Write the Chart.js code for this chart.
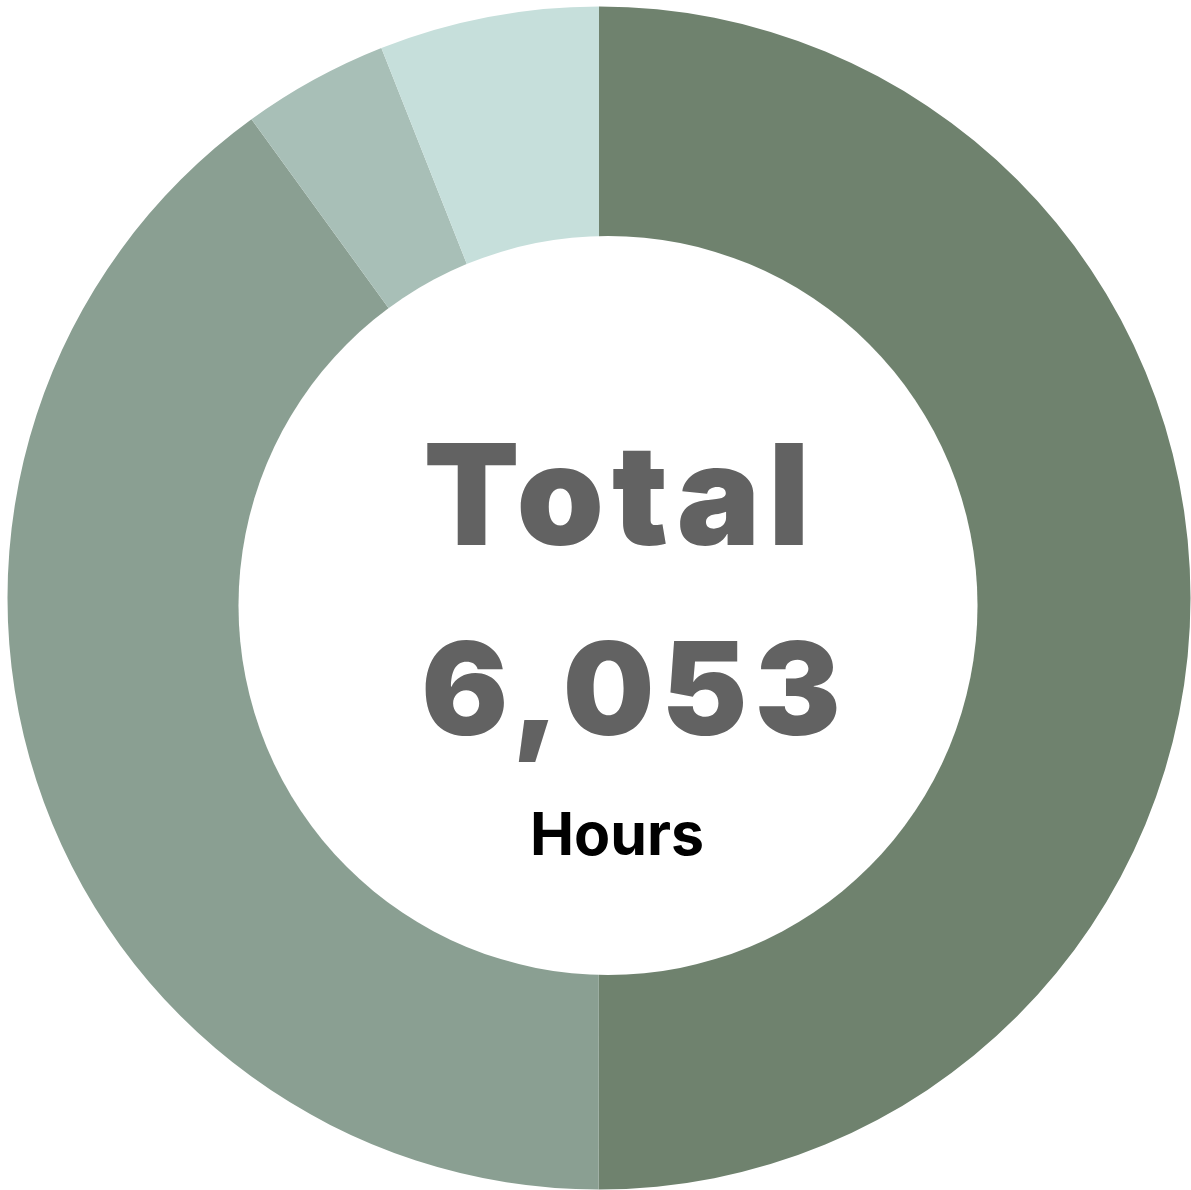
<!DOCTYPE html>
<html>
<head>
<meta charset="utf-8">
<script src="https://cdn.jsdelivr.net/npm/chart.js@4.4.1/dist/chart.umd.min.js"></script>
<style>
  html, body { margin: 0; padding: 0; background: #ffffff; }
  #wrap { width: 1191px; height: 1190px; }
</style>
</head>
<body>
<div id="wrap"><canvas id="rosca"></canvas></div>
<script>
/* dados do gráfico */
const categorias = ['Segment 1', 'Segment 2', 'Segment 3', 'Segment 4'];
const horas = [3027, 2421, 242, 363];
const cores = ['#6f826e', '#8a9f92', '#a8bfb7', '#c6dfdb'];
const textoTitulo = 'Total';
const textoTotal = '6,053';
const textoUnidade = 'Hours';

/* furo branco e textos do centro */
const centroPlugin = {
    id: 'centro',
    afterDatasetsDraw(chart) {
        const arco = chart.getDatasetMeta(0).data[0];
        const cx = arco.x, cy = arco.y;
        const ctx = chart.ctx;
        ctx.save();

        // o furo do original fica um pouco deslocado para a direita/baixo
        ctx.fillStyle = '#ffffff';
        ctx.beginPath();
        ctx.arc(cx + 9, cy + 7.5, arco.outerRadius * 0.6247, 0, Math.PI * 2);
        ctx.fill();

        ctx.textAlign = 'center';
        ctx.textBaseline = 'alphabetic';

        ctx.fillStyle = '#626262';
        ctx.font = '900 140px Inter';
        ctx.letterSpacing = '8px';
        ctx.fillText(textoTitulo, cx + 17.5 + 4, cy - 53);

        ctx.font = '900 129px Inter';
        ctx.letterSpacing = '7px';
        ctx.fillText(textoTotal, cx + 32 + 3.5, cy + 137);

        ctx.fillStyle = '#000000';
        ctx.font = '700 59px Inter';
        ctx.letterSpacing = '0px';
        ctx.fillText(textoUnidade, cx + 18, cy + 257);

        ctx.restore();
    }
};

let graficoRosca;

function inicializarGrafico() {
    const ctx = document.getElementById('rosca').getContext('2d');
    graficoRosca = new Chart(ctx, {
        type: 'doughnut',
        data: {
            labels: categorias,
            datasets: [{
                data: horas,
                backgroundColor: cores,
                borderWidth: 0,
                hoverOffset: 0
            }]
        },
        options: {
            responsive: true,
            maintainAspectRatio: false,
            animation: false,
            cutout: '60%',
            layout: { padding: { left: 7.5, top: 6.5, right: 0.5, bottom: 0.5 } },
            plugins: {
                legend: { display: false },
                tooltip: { enabled: false }
            }
        },
        plugins: [centroPlugin]
    });
}

window.onload = () => {
    inicializarGrafico();
};
</script>
</body>
</html>
